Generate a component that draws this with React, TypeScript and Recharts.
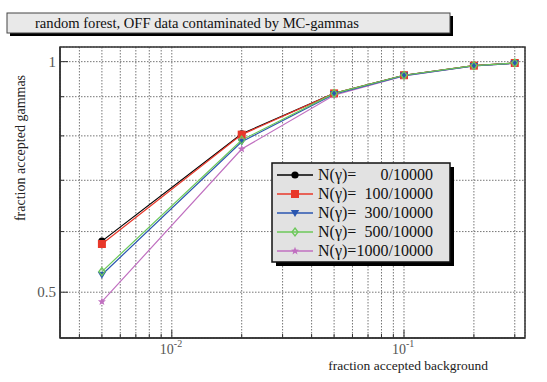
import React from "react";
import {
  LineChart,
  Line,
  XAxis,
  YAxis,
  CartesianGrid,
  Legend,
  ReferenceArea,
} from "recharts";

const bgFraction = [0.005, 0.02, 0.05, 0.1, 0.2, 0.3];
const n0 = [0.583, 0.805, 0.909, 0.96, 0.988, 0.996];
const n100 = [0.578, 0.803, 0.909, 0.96, 0.988, 0.996];
const n300 = [0.527, 0.786, 0.907, 0.959, 0.987, 0.995];
const n500 = [0.532, 0.79, 0.909, 0.96, 0.988, 0.996];
const n1000 = [0.486, 0.769, 0.904, 0.958, 0.987, 0.995];

const xTicks = [
  0.004, 0.005, 0.006, 0.007, 0.008, 0.009, 0.01, 0.02, 0.03, 0.04, 0.05, 0.06,
  0.07, 0.08, 0.09, 0.1, 0.2, 0.3,
];
const xLabels: Record<string, string> = { "0.01": "-2", "0.1": "-1" };
const yTicks = [0.5, 0.6, 0.7, 0.8, 0.9, 1];
const yLabels: Record<string, string> = { "0.5": "0.5", "1": "1" };

const X_DOMAIN = [0.0033, 0.332];
const Y_DOMAIN = [0.4357, 1.045];

const series = [
  { key: "n0", label: "N(\u03b3)=", count: "0/10000", color: "#000000", shape: "circle", values: n0 },
  { key: "n100", label: "N(\u03b3)=", count: "100/10000", color: "#e8382a", shape: "square", values: n100 },
  { key: "n1000", label: "N(\u03b3)=", count: "1000/10000", color: "#c070c0", shape: "star", values: n1000 },
  { key: "n300", label: "N(\u03b3)=", count: "300/10000", color: "#2a56b0", shape: "triangle", values: n300 },
  { key: "n500", label: "N(\u03b3)=", count: "500/10000", color: "#6cc85a", shape: "diamond", values: n500 },
];
const legendOrder = ["n0", "n100", "n300", "n500", "n1000"];

const data = bgFraction.map((x, i) => {
  const row: Record<string, number> = { x };
  series.forEach((s) => {
    row[s.key] = s.values[i];
  });
  return row;
});

function Marker({ cx, cy, shape, color }: { cx: number; cy: number; shape: string; color: string }) {
  if (cx == null || cy == null) return null;
  switch (shape) {
    case "circle":
      return <circle cx={cx} cy={cy} r={3.6} fill={color} />;
    case "square":
      return <rect x={cx - 4} y={cy - 4} width={8} height={8} fill={color} />;
    case "triangle":
      return <polygon points={`${cx - 4.2},${cy - 3} ${cx + 4.2},${cy - 3} ${cx},${cy + 4}`} fill={color} />;
    case "diamond":
      return (
        <polygon
          points={`${cx},${cy - 4} ${cx + 3},${cy} ${cx},${cy + 4} ${cx - 3},${cy}`}
          fill="none"
          stroke={color}
          strokeWidth={1.3}
        />
      );
    case "star": {
      const pts: string[] = [];
      for (let i = 0; i < 10; i++) {
        const r = i % 2 === 0 ? 4.2 : 1.8;
        const a = -Math.PI / 2 + (i * Math.PI) / 5;
        pts.push(`${cx + r * Math.cos(a)},${cy + r * Math.sin(a)}`);
      }
      return <polygon points={pts.join(" ")} fill={color} />;
    }
    default:
      return null;
  }
}

const XTick = (props: any) => {
  const { x, y, payload } = props;
  const v = payload.value;
  const key = String(v);
  const major = key in xLabels;
  return (
    <g>
      <line x1={x} x2={x} y1={y} y2={y - (major ? 8 : 4)} stroke="#333" strokeWidth={1} />
      {major && (
        <text x={x - 12} y={y + 16} fill="#555" fontFamily="Liberation Serif, serif" fontSize={14}>
          10
          <tspan dy={-7} fontSize={10}>
            {xLabels[key]}
          </tspan>
        </text>
      )}
    </g>
  );
};

const YTick = (props: any) => {
  const { x, y, payload } = props;
  const key = String(payload.value);
  const lab = yLabels[key];
  return (
    <g>
      <line x1={x} x2={x + (lab ? 8 : 4)} y1={y} y2={y} stroke="#333" strokeWidth={1} />
      {lab && (
        <text x={x - 4} y={y + 5} textAnchor="end" fill="#555" fontFamily="Liberation Serif, serif" fontSize={15}>
          {lab}
        </text>
      )}
    </g>
  );
};

const LegendBox = () => {
  const rows = legendOrder.map((k) => series.find((s) => s.key === k)!);
  return (
    <svg width={190} height={108} style={{ display: "block", overflow: "visible" }}>
      <rect x={5} y={5} width={178} height={99} fill="#000" />
      <rect x={1} y={1} width={178} height={99} fill="#e2e2e2" stroke="#111" strokeWidth={1.5} />
      {rows.map((s, i) => {
        const cy = 13 + i * 19;
        return (
          <g key={s.key}>
            <line x1={6} x2={42} y1={cy} y2={cy} stroke={s.color} strokeWidth={1.3} />
            <Marker cx={24} cy={cy} shape={s.shape} color={s.color} />
            <text x={47} y={cy + 5} fontFamily="Liberation Serif, serif" fontSize={16} fill="#111">
              {s.label}
            </text>
            <text x={162} y={cy + 5} textAnchor="end" fontFamily="Liberation Serif, serif" fontSize={16} fill="#111">
              {s.count}
            </text>
          </g>
        );
      })}
    </svg>
  );
};

export default function App() {
  return (
    <div style={{ position: "absolute", left: 0, top: 0, width: 547, height: 382, background: "#fff" }}>
      <svg width={547} height={382} style={{ position: "absolute", left: 0, top: 0 }}>
        <rect x={10} y={16} width={443} height={20} fill="#000" />
        <rect x={7} y={13} width={443} height={20} fill="#e9e9e9" stroke="#444" strokeWidth={1} />
        <text x={35} y={28} fontFamily="Liberation Serif, serif" fontSize={14.6} fill="#111">
          random forest, OFF data contaminated by MC-gammas
        </text>
        <text
          x={0}
          y={0}
          transform="translate(25,148) rotate(-90)"
          textAnchor="middle"
          fontFamily="Liberation Serif, serif"
          fontSize={14}
          fill="#222"
        >
          fraction accepted gammas
        </text>
        <text x={488} y={370} textAnchor="end" fontFamily="Liberation Serif, serif" fontSize={13.5} fill="#222">
          fraction accepted background
        </text>
      </svg>
      <div style={{ position: "absolute", left: 0, top: 0 }}>
        <LineChart width={547} height={382} data={data} margin={{ top: 47, right: 22, bottom: 0, left: 0 }}>
          <CartesianGrid stroke="#666" strokeDasharray="1.5 1.5" strokeWidth={0.9} />
          <XAxis
            dataKey="x"
            type="number"
            scale="log"
            domain={X_DOMAIN}
            ticks={xTicks}
            allowDataOverflow
            height={44}
            tickSize={0}
            tickMargin={0}
            tick={<XTick />}
            interval={0}
            axisLine={{ stroke: "#333", strokeWidth: 1.5 }}
            tickLine={false}
          />
          <YAxis
            type="number"
            scale="log"
            domain={Y_DOMAIN}
            ticks={yTicks}
            allowDataOverflow
            width={60}
            tickSize={0}
            tickMargin={0}
            tick={<YTick />}
            interval={0}
            axisLine={{ stroke: "#333", strokeWidth: 1.5 }}
            tickLine={false}
          />
          <ReferenceArea
            x1={X_DOMAIN[0]}
            x2={X_DOMAIN[1]}
            y1={Y_DOMAIN[0]}
            y2={Y_DOMAIN[1]}
            fill="none"
            stroke="#333"
            strokeWidth={1.5}
            ifOverflow="visible"
          />
          {series.map((s) => (
            <Line
              key={s.key}
              dataKey={s.key}
              stroke={s.color}
              strokeWidth={1.2}
              isAnimationActive={false}
              dot={(p: any) => <Marker key={`${s.key}-${p.index}`} cx={p.cx} cy={p.cy} shape={s.shape} color={s.color} />}
              activeDot={false}
            />
          ))}
          <Legend
            layout="horizontal"
            verticalAlign="middle"
            align="center"
            wrapperStyle={{ position: "absolute", left: 271, top: 162, width: 190, height: 108 }}
            content={() => <LegendBox />}
          />
        </LineChart>
      </div>
    </div>
  );
}
